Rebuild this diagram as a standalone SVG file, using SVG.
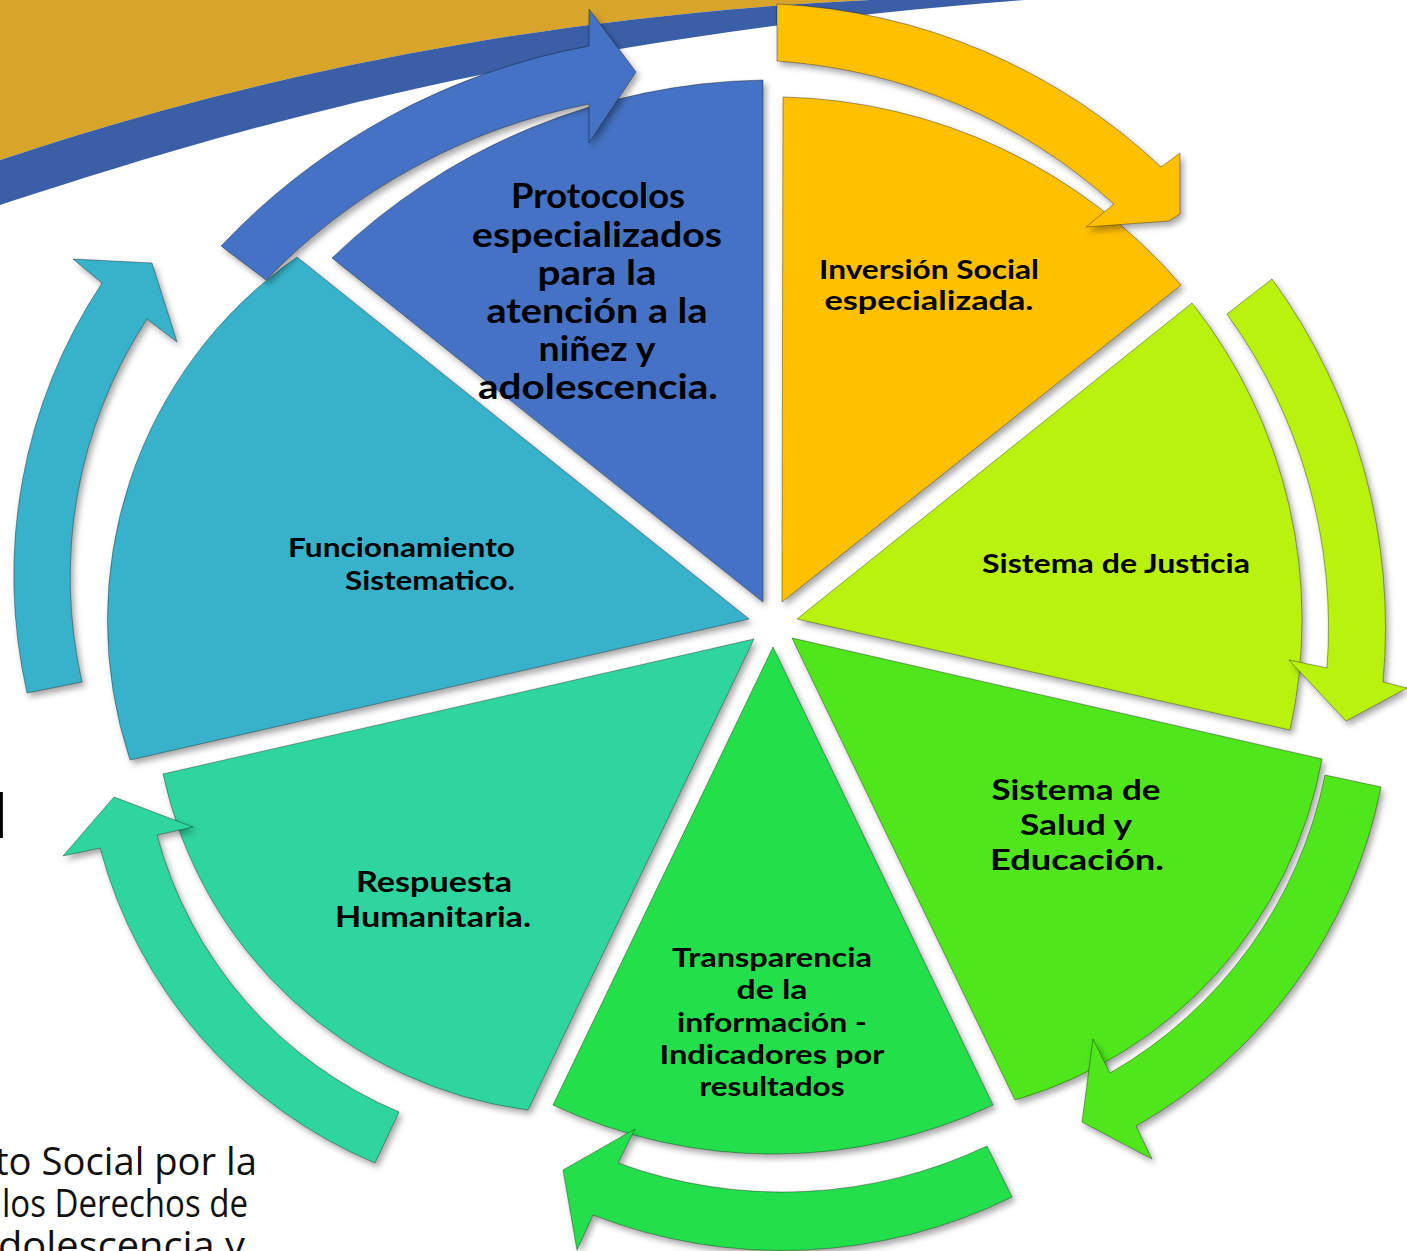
<svg xmlns="http://www.w3.org/2000/svg" width="1407" height="1251" viewBox="0 0 1407 1251">
<defs>
<filter id="sh" x="-20%" y="-20%" width="140%" height="140%">
<feDropShadow dx="3" dy="4" stdDeviation="3" flood-color="#000" flood-opacity="0.35"/>
</filter>
<style>
.s{stroke:#000;stroke-opacity:.35;stroke-width:1;filter:url(#sh);stroke-linejoin:miter}
.t{font-family:Lato,"DejaVu Sans",sans-serif;font-weight:700;fill:#000;text-anchor:middle}
.b{font-family:"Open Sans","Noto Sans",sans-serif;font-weight:400;fill:#111;font-size:39px;text-anchor:end}
.c1{fill:#4472C4}.c2{fill:#FFC000}.c3{fill:#B9F20F}.c4{fill:#4FE61A}.c5{fill:#22DF4B}.c6{fill:#2FD59F}.c7{fill:#37B2CA}
</style>
</defs>
<rect width="1407" height="1251" fill="#fff"/>
<g id="background">
<path d="M0,0 L870,0 C450,20 150,110 0,160 Z" fill="#D9A42A"/>
<path d="M0,160 C150,110 450,20 870,0 L1025,0 C500,40 170,150 0,205 Z" fill="#3A5FA6"/>
<text x="8" y="838" font-family="'DejaVu Sans',sans-serif" font-weight="700" font-size="60" text-anchor="end" fill="#000">d</text>
<text class="b" x="257" y="1175" textLength="262" lengthAdjust="spacingAndGlyphs">to Social por la</text>
<text class="b" x="248" y="1217" textLength="246" lengthAdjust="spacingAndGlyphs">los Derechos de</text>
<text class="b" x="245" y="1259" textLength="247" lengthAdjust="spacingAndGlyphs">dolescencia y</text>
</g>
<g id="node-protocolos">
<path class="s c1" d="M763,602 L332,258 A635,635 0 0 1 763,80 Z"/>
</g>
<g id="node-inversion">
<path class="s c2" d="M782,602 L783,97 A540,540 0 0 1 1181,285 Z"/>
</g>
<g id="node-justicia">
<path class="s c3" d="M797,619 L1192,303 A511,511 0 0 1 1290,730 Z"/>
</g>
<g id="node-salud">
<path class="s c4" d="M792,638 L1322,759 A436,436 0 0 1 1015,1100 Z"/>
</g>
<g id="node-transparencia">
<path class="s c5" d="M773,647 L993,1105 A518,518 0 0 1 553,1105 Z"/>
</g>
<g id="node-respuesta">
<path class="s c6" d="M754,639 L528,1110 A430,430 0 0 1 163,774 Z"/>
</g>
<g id="node-funcionamiento">
<path class="s c7" d="M749,619 L130,760 A443,443 0 0 1 297,257 Z"/>
</g>
<g id="connectors">
<path class="s c1" d="M221,246 A674,674 0 0 1 589,46 L589,9 L636,72 L589,143 L589,104 A617,617 0 0 0 266,280 Z"/>
<path class="s c2" d="M777,4 A600,600 0 0 1 1161,167 L1180,153 L1180,214 L1169,221 L1086,227 L1114,204 A560,560 0 0 0 777,61 Z"/>
<path class="s c3" d="M1272,279 A592,592 0 0 1 1383,682 L1407,688 L1346,721 L1289,660 L1327,668 A535,535 0 0 0 1227,314 Z"/>
<path class="s c4" d="M1381,787 A500,500 0 0 1 1136,1126 L1152,1159 L1082,1122 L1093,1039 L1110,1073 A445,445 0 0 0 1325,775 Z"/>
<path class="s c5" d="M1012,1197 A521,521 0 0 1 593,1215 L577,1250 L563,1170 L635,1129 L618,1163 A478,478 0 0 0 987,1146 Z"/>
<path class="s c6" d="M375,1163 A475,475 0 0 1 100,848 L63,856 L114,797 L193,827 L157,835 A418,418 0 0 0 399,1112 Z"/>
<path class="s c7" d="M27,693 A529,529 0 0 1 102,283 L73,259 L152,263 L177,342 L147,319 A472,472 0 0 0 82,682 Z"/>
</g>
<g id="labels">
<g font-size="34">
<text class="t" x="598" y="208" textLength="174" lengthAdjust="spacingAndGlyphs">Protocolos</text>
<text class="t" x="597" y="247" textLength="250" lengthAdjust="spacingAndGlyphs">especializados</text>
<text class="t" x="597" y="285" textLength="119" lengthAdjust="spacingAndGlyphs">para la</text>
<text class="t" x="597" y="323" textLength="221" lengthAdjust="spacingAndGlyphs">atención a la</text>
<text class="t" x="597" y="361" textLength="117" lengthAdjust="spacingAndGlyphs">niñez y</text>
<text class="t" x="598" y="399" textLength="240" lengthAdjust="spacingAndGlyphs">adolescencia.</text>
</g>
<g font-size="27">
<text class="t" x="929" y="279" textLength="220" lengthAdjust="spacingAndGlyphs">Inversión Social</text>
<text class="t" x="929" y="310" textLength="209" lengthAdjust="spacingAndGlyphs">especializada.</text>
<text class="t" x="1116" y="573" textLength="268" lengthAdjust="spacingAndGlyphs">Sistema de Justicia</text>
</g>
<g font-size="29">
<text class="t" x="1076" y="800" textLength="169" lengthAdjust="spacingAndGlyphs">Sistema de</text>
<text class="t" x="1076" y="835" textLength="112" lengthAdjust="spacingAndGlyphs">Salud y</text>
<text class="t" x="1077" y="870" textLength="174" lengthAdjust="spacingAndGlyphs">Educación.</text>
</g>
<g font-size="27">
<text class="t" x="772" y="967" textLength="200" lengthAdjust="spacingAndGlyphs">Transparencia</text>
<text class="t" x="772" y="999" textLength="71" lengthAdjust="spacingAndGlyphs">de la</text>
<text class="t" x="772" y="1032" textLength="190" lengthAdjust="spacingAndGlyphs">información -</text>
<text class="t" x="772" y="1064" textLength="225" lengthAdjust="spacingAndGlyphs">Indicadores por</text>
<text class="t" x="772" y="1096" textLength="145" lengthAdjust="spacingAndGlyphs">resultados</text>
</g>
<g font-size="29">
<text class="t" x="434" y="892" textLength="156" lengthAdjust="spacingAndGlyphs">Respuesta</text>
<text class="t" x="433" y="927" textLength="196" lengthAdjust="spacingAndGlyphs">Humanitaria.</text>
</g>
<g font-size="27">
<text class="t" x="515" y="557" style="text-anchor:end" textLength="227" lengthAdjust="spacingAndGlyphs">Funcionamiento</text>
<text class="t" x="515" y="590" style="text-anchor:end" textLength="170" lengthAdjust="spacingAndGlyphs">Sistematico.</text>
</g>
</g>
</svg>
